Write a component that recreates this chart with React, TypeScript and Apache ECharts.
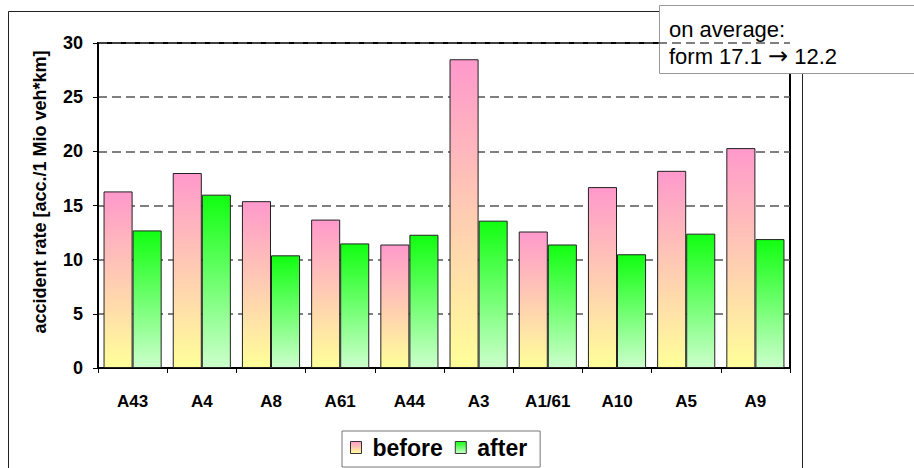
import React, { useEffect, useRef } from "react";
import * as echarts from "echarts";

const categories = ["A43", "A4", "A8", "A61", "A44", "A3", "A1/61", "A10", "A5", "A9"];
const beforeValues = [16.3, 18.0, 15.4, 13.7, 11.4, 28.5, 12.6, 16.7, 18.2, 20.3];
const afterValues = [12.7, 16.0, 10.4, 11.5, 12.3, 13.6, 11.4, 10.5, 12.4, 11.9];
const seriesNames = ["before", "after"];
const yAxisTitle = "accident rate [acc./1 Mio veh*km]";
const noteLine1 = "on average:";
const noteFrom = "form 17.1 ";
const noteArrow = "\u2192";
const noteTo = " 12.2";

const FONT = "'Liberation Sans', Arial, sans-serif";

export default function App() {
  const ref = useRef<HTMLDivElement>(null);
  useEffect(() => {
    if (!ref.current) return;
    const chart = echarts.init(ref.current, null, { renderer: "svg" });
    const pinkGrad = new echarts.graphic.LinearGradient(0, 0, 0, 1, [
      { offset: 0, color: "#ff99cc" },
      { offset: 1, color: "#ffff99" },
    ]);
    const greenGrad = new echarts.graphic.LinearGradient(0, 0, 0, 1, [
      { offset: 0, color: "#11ff11" },
      { offset: 1, color: "#ccffcc" },
    ]);
    chart.setOption({
      animation: false,
      backgroundColor: "#ffffff",
      textStyle: { fontFamily: FONT },
      grid: {
        left: 98,
        right: 124,
        top: 43,
        bottom: 100,
        show: true,
        borderColor: "#000",
        borderWidth: 2,
        backgroundColor: "transparent",
      },
      legend: {
        left: 342,
        top: 431,
        data: seriesNames,
        itemWidth: 11,
        itemHeight: 12,
        itemGap: 12,
        padding: [5, 13, 8, 8],
        borderColor: "#777",
        borderWidth: 1,
        backgroundColor: "#fff",
        icon: "rect",
        itemStyle: { borderColor: "#333", borderWidth: 1 },
        textStyle: { fontSize: 23, fontWeight: "bold", color: "#000", fontFamily: FONT, padding: [0, 0, 0, 6] },
      },
      xAxis: {
        type: "category",
        data: categories,
        axisLine: { lineStyle: { color: "#000", width: 2 } },
        axisTick: { show: true, length: 5, lineStyle: { color: "#000", width: 1 } },
        axisLabel: { margin: 25, fontSize: 17, fontWeight: "bold", color: "#000", fontFamily: FONT },
      },
      yAxis: {
        type: "value",
        min: 0,
        max: 30,
        interval: 5,
        axisLine: { show: true, lineStyle: { color: "#000", width: 2 } },
        axisTick: { show: true, length: 5, lineStyle: { color: "#000", width: 1 } },
        axisLabel: { margin: 15, fontSize: 18, fontWeight: "bold", color: "#000", fontFamily: FONT },
        splitLine: { show: true, lineStyle: { color: "#555", width: 1.5, type: [9, 5] } },
      },
      series: [
        {
          name: seriesNames[0],
          type: "bar",
          data: beforeValues,
          barGap: "0%",
          barCategoryGap: "16%",
          itemStyle: { color: pinkGrad, borderColor: "#222", borderWidth: 1 },
        },
        {
          name: seriesNames[1],
          type: "bar",
          data: afterValues,
          barGap: "0%",
          barCategoryGap: "16%",
          itemStyle: { color: greenGrad, borderColor: "#222", borderWidth: 1 },
        },
      ],
      graphic: [
        {
          type: "rect",
          z: -10,
          silent: true,
          shape: { x: 8.5, y: 11.5, width: 794, height: 470 },
          style: { fill: "none", stroke: "#222", lineWidth: 1 },
        },
        {
          type: "text",
          x: 40,
          y: 192,
          rotation: Math.PI / 2,
          style: {
            text: yAxisTitle,
            fontSize: 18,
            fontWeight: "bold",
            fill: "#000",
            fontFamily: FONT,
            align: "center",
            verticalAlign: "middle",
          },
        },
        {
          type: "group",
          z: 100,
          children: [
            {
              type: "rect",
              shape: { x: 659.5, y: 5.5, width: 270, height: 68 },
              style: { fill: "#fff", stroke: "#999", lineWidth: 1 },
            },
            {
              type: "text",
              x: 669,
              y: 18,
              style: { text: noteLine1, fontSize: 22, fill: "#000", fontFamily: FONT },
            },
            {
              type: "text",
              x: 669,
              y: 44,
              style: {
                text: "{t|" + noteFrom + "}{a|" + noteArrow + "}{t|" + noteTo + "}",
                fontSize: 22,
                fill: "#000",
                fontFamily: FONT,
                rich: {
                  t: { fontSize: 22, fontFamily: FONT, fill: "#000" },
                  a: { fontSize: 24, fontFamily: "'DejaVu Sans', sans-serif", fill: "#000" },
                },
              },
            },
          ],
        },
      ],
    });
    return () => chart.dispose();
  }, []);
  return <div ref={ref} style={{ width: 914, height: 468, position: "absolute", left: 0, top: 0 }} />;
}
